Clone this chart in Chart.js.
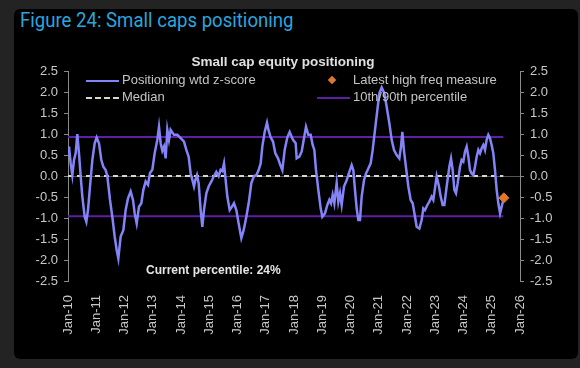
<!DOCTYPE html>
<html>
<head>
<meta charset="utf-8">
<script src="https://cdn.jsdelivr.net/npm/chart.js@4.4.1/dist/chart.umd.min.js"></script>
<style>
  html, body { margin: 0; padding: 0; }
  body { width: 580px; height: 368px; background: #232323; position: relative; overflow: hidden;
         font-family: "Liberation Sans", Arial, sans-serif; }
  #panel { position: absolute; left: 14px; top: 9px; width: 564px; height: 350px; background: #000; border-radius: 6px; }
  #fig { position: absolute; left: 20px; top: 8px; font-family: "Roboto", "Liberation Sans", sans-serif;
         font-size: 21px; color: #2aa6de; white-space: nowrap; transform: scaleX(0.885); transform-origin: 0 0; }
  #wrap { position: absolute; left: 0; top: 0; width: 580px; height: 368px; }
  .lg { position: absolute; font-size: 13px; color: #c4c4c4; white-space: nowrap; line-height: 16px; }
  .sw { position: absolute; height: 0; }
  #note { position: absolute; left: 146px; top: 263px; font-size: 12px; font-weight: bold; color: #e6e6e6; white-space: nowrap; }
</style>
</head>
<body>
<div id="panel"></div>
<div id="fig">Figure 24: Small caps positioning</div>
<div id="wrap"><canvas id="chart" width="580" height="368"></canvas></div>

<div class="sw" style="left:86px; top:80px; width:33px; border-top:2px solid #8484f8;"></div>
<div class="lg" style="left:122px; top:72px;">Positioning wtd z-score</div>
<div class="sw" style="left:86px; top:97px; width:33px; border-top:2px dashed #d8d8c8;"></div>
<div class="lg" style="left:122px; top:89px;">Median</div>
<div class="sw" style="left:329px; top:77px; width:6px; height:6px; background:#e0782a; transform:rotate(45deg);"></div>
<div class="lg" style="left:353px; top:72px;">Latest high freq measure</div>
<div class="lg" style="left:353px; top:89px;">10th/90th percentile</div>
<div class="sw" style="left:317px; top:97px; width:33px; border-top:2px solid #5c1fa6;"></div>
<div id="note">Current percentile: 24%</div>

<script>
// weekly z-score (decimal years)
var dates = [
  2010.00, 2010.035, 2010.094, 2010.153, 2010.212, 2010.271, 2010.330, 2010.389, 2010.448, 2010.507,
  2010.590, 2010.649, 2010.708, 2010.779, 2010.861, 2010.944, 2011.015, 2011.097, 2011.180, 2011.251,
  2011.333, 2011.392, 2011.487, 2011.569, 2011.652, 2011.723, 2011.782, 2011.864, 2011.959, 2012.041,
  2012.124, 2012.218, 2012.301, 2012.360, 2012.431, 2012.513, 2012.596, 2012.667, 2012.749, 2012.832,
  2012.903, 2012.985, 2013.068, 2013.162, 2013.221, 2013.280, 2013.339, 2013.398, 2013.457, 2013.516,
  2013.575, 2013.634, 2013.752, 2013.870, 2013.988, 2014.106,
  2014.189, 2014.271, 2014.342, 2014.389, 2014.460, 2014.507, 2014.566, 2014.625, 2014.696, 2014.755,
  2014.814, 2014.897, 2014.979, 2015.074, 2015.168, 2015.251, 2015.333, 2015.404, 2015.463, 2015.522,
  2015.581, 2015.640, 2015.723, 2015.805, 2015.876, 2015.959, 2016.041, 2016.136, 2016.218, 2016.313,
  2016.395, 2016.490, 2016.584, 2016.667, 2016.749, 2016.820, 2016.879, 2016.962, 2017.044, 2017.103,
  2017.174, 2017.257, 2017.339, 2017.434, 2017.516, 2017.587, 2017.670, 2017.764, 2017.847, 2017.965,
  2018.059,
  2018.094, 2018.189, 2018.271, 2018.354, 2018.425, 2018.507, 2018.590, 2018.661, 2018.720, 2018.779,
  2018.861, 2018.944, 2019.003, 2019.097, 2019.180, 2019.251, 2019.310, 2019.369, 2019.428, 2019.510,
  2019.569, 2019.628, 2019.687, 2019.770, 2019.864, 2019.959, 2020.041, 2020.100, 2020.159, 2020.218,
  2020.277, 2020.336, 2020.395, 2020.478, 2020.549, 2020.631, 2020.714, 2020.785, 2020.867, 2020.950,
  2021.021, 2021.103, 2021.198, 2021.280, 2021.375, 2021.457, 2021.540, 2021.634, 2021.729, 2021.788,
  2021.835, 2021.894, 2021.965,
  2022.047, 2022.130, 2022.201, 2022.283, 2022.342, 2022.437, 2022.519, 2022.578, 2022.637, 2022.720,
  2022.791, 2022.873, 2022.932, 2022.991, 2023.050, 2023.133, 2023.192, 2023.263, 2023.322, 2023.404,
  2023.499, 2023.558, 2023.617, 2023.676, 2023.735, 2023.794, 2023.876, 2023.935, 2023.994, 2024.053,
  2024.112, 2024.171, 2024.230, 2024.289, 2024.348, 2024.407, 2024.466, 2024.525, 2024.584, 2024.643,
  2024.702, 2024.761, 2024.820, 2024.879, 2024.938, 2024.997, 2025.056, 2025.115, 2025.174, 2025.233,
  2025.295, 2025.351, 2025.410
];
var zscore = [
  0.54, 0.70, 0.30, 0.02, 0.38, 0.54, 1.00, 0.54, 0.00, -0.49,
  -0.97, -1.09, -0.81, -0.25, 0.38, 0.78, 0.92, 0.78, 0.38, 0.22,
  0.14, 0.00, -0.57, -0.97, -1.44, -1.76, -1.96, -1.44, -1.29, -0.81,
  -0.53, -0.37, -0.57, -0.89, -1.13, -0.73, -0.65, -0.33, -0.13, -0.21,
  0.07, 0.15, 0.54, 0.86, 1.17, 0.78, 0.60, 0.70, 0.42, 1.10,
  0.86, 1.10, 0.98, 0.98, 0.90, 0.82,
  0.62, 0.46, 0.06, -0.06, -0.25, -0.10, 0.02, -0.17, -0.81, -1.21,
  -0.81, -0.41, -0.25, -0.13, 0.00, 0.10, 0.00, 0.15, 0.12, 0.30,
  -0.10, -0.49, -0.81, -0.73, -0.65, -0.81, -1.13, -1.48, -1.29, -0.97,
  -0.65, -0.17, 0.00, 0.02, 0.14, 0.30, 0.70, 1.05, 1.27, 1.08,
  0.92, 0.82, 0.54, 0.42, 0.26, 0.14, 0.62, 0.92, 1.05, 0.86,
  0.78,
  0.42, 0.46, 0.58, 0.90, 1.17, 0.98, 0.98, 0.74, 0.62, 0.14,
  -0.33, -0.77, -0.97, -0.89, -0.69, -0.57, -0.65, -0.45, -0.65, -0.17,
  -0.61, -0.41, -0.69, -0.25, -0.10, 0.10, 0.26, 0.14, -0.33, -0.77,
  -1.05, -1.05, -0.49, -0.10, 0.06, 0.18, 0.30, 0.62, 1.10, 1.57,
  1.97, 2.11, 1.97, 1.65, 1.26, 0.86, 0.62, 0.50, 0.42, 0.70,
  1.05, 0.60, 0.20,
  -0.25, -0.57, -0.65, -0.97, -1.21, -1.25, -1.05, -0.77, -0.81, -0.69,
  -0.61, -0.49, -0.57, -0.29, -0.01, -0.25, -0.49, -0.69, -0.69, -0.25,
  0.22, 0.42, 0.14, -0.33, -0.41, -0.17, 0.22, 0.38, 0.34, 0.58,
  0.70, 0.46, 0.14, 0.06, 0.02, 0.22, 0.46, 0.62, 0.54, 0.66,
  0.74, 0.62, 0.86, 0.98, 0.90, 0.74, 0.54, 0.14, -0.33, -0.65,
  -0.89, -0.73, -0.57
];

var median = 0;
var pct90 = 0.93;
var pct10 = -0.96;
var latestDate = [2025.43];
var latestValue = [-0.52];

var xTickLabels = ['Jan-10', 'Jan-11', 'Jan-12', 'Jan-13', 'Jan-14', 'Jan-15', 'Jan-16', 'Jan-17',
  'Jan-18', 'Jan-19', 'Jan-20', 'Jan-21', 'Jan-22', 'Jan-23', 'Jan-24', 'Jan-25', 'Jan-26'];

var first = dates[0], last = dates[dates.length - 1];

function flat(v) {
  return [{ x: first, y: v }, { x: last, y: v }];
}

var mainData = dates.map(function (d, i) { return { x: d, y: zscore[i] }; });
var latestData = latestDate.map(function (d, i) { return { x: d, y: latestValue[i] }; });

var tickFont = { family: '"Liberation Sans", Arial, sans-serif', size: 13 };
var axisGray = '#8a8a8a';

function yAxis(pos) {
  return {
    type: 'linear', position: pos, min: -2.5, max: 2.5,
    afterFit: function (scale) { scale.width = 40; },
    ticks: {
      stepSize: 0.5, color: '#c8c8c8', font: tickFont, padding: 6,
      callback: function (v) { return v.toFixed(1); }
    },
    border: { display: true, color: axisGray, width: 1 },
    grid: {
      drawOnChartArea: pos === 'left',
      color: function (c) { return c.tick && c.tick.value === 0 ? '#555555' : 'rgba(0,0,0,0)'; },
      tickColor: axisGray, tickLength: 4
    }
  };
}

new Chart(document.getElementById('chart'), {
  type: 'line',
  data: {
    datasets: [
      { data: flat(pct90), borderColor: '#5c1fa6', borderWidth: 2, pointRadius: 0, order: 3 },
      { data: flat(pct10), borderColor: '#5c1fa6', borderWidth: 2, pointRadius: 0, order: 3 },
      { data: flat(median), borderColor: '#d8d8c8', borderWidth: 2, borderDash: [5, 4], pointRadius: 0, order: 2 },
      { data: mainData, borderColor: '#8484f8', borderWidth: 2.5, pointRadius: 0, tension: 0, order: 1 },
      { data: latestData, showLine: false, pointStyle: 'rectRot', pointRadius: 5,
        backgroundColor: '#e0782a', borderColor: '#e0782a', order: 0 }
    ]
  },
  options: {
    responsive: false,
    animation: false,
    layout: { padding: { left: 28, right: 20, top: 71, bottom: 0 } },
    plugins: {
      legend: { display: false },
      tooltip: { enabled: false },
      title: { display: false }
    },
    scales: {
      x: {
        type: 'linear', min: 2010, max: 2026,
        afterFit: function (scale) { scale.height = 87; },
        afterBuildTicks: function (scale) {
          scale.ticks = xTickLabels.map(function (l, i) { return { value: 2010 + i }; });
        },
        ticks: {
          color: '#c8c8c8', font: tickFont, autoSkip: false, maxRotation: 90, minRotation: 90, padding: 6,
          callback: function (v) { return xTickLabels[Math.round(v - 2010)]; }
        },
        border: { display: false },
        grid: { display: false }
      },
      y: yAxis('left'),
      y2: yAxis('right')
    }
  },
  plugins: [{
    id: 'chartTitle',
    afterDraw: function (chart) {
      var ctx = chart.ctx;
      ctx.save();
      ctx.font = 'bold 13.5px "Liberation Sans", Arial, sans-serif';
      ctx.fillStyle = '#e0e0e0';
      ctx.textAlign = 'center';
      ctx.textBaseline = 'middle';
      ctx.fillText('Small cap equity positioning', 283, 62);
      ctx.restore();
    }
  }]
});
</script>
</body>
</html>
